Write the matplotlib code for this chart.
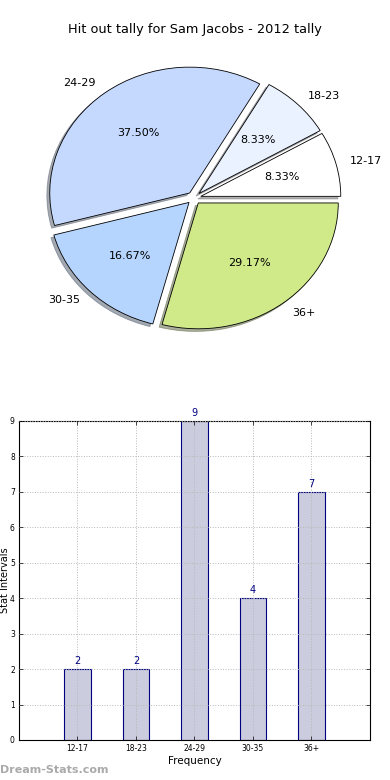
import matplotlib
matplotlib.use("Agg")
import matplotlib.pyplot as plt
import numpy as np

categories = ["12-17", "18-23", "24-29", "30-35", "36+"]
counts = [2, 2, 9, 4, 7]
pie_colors = ["#ffffff", "#eaf1ff", "#c5d9ff", "#b5d5ff", "#d0ea8a"]
title = "Hit out tally for Sam Jacobs - 2012 tally"

fig = plt.figure(figsize=(3.9, 7.8), dpi=100)

# Pie chart
axp = fig.add_axes([0.0667, 0.5526, 0.8615, 0.3872])
wedges, texts, autotexts = axp.pie(
    counts, labels=categories, colors=pie_colors, autopct="%1.2f%%",
    explode=[0.05] * len(counts),
    shadow=dict(ox=-0.015, oy=-0.015, shade=0.6),
    startangle=0,
    wedgeprops=dict(edgecolor="black", linewidth=0.6),
    textprops=dict(fontsize=8), frame=False)
axp.set_aspect("auto")
axp.set_xlim(-1.2, 1.2)
axp.set_ylim(-1.2, 1.2)
axp.axis("off")
fig.text(0.5, 1 - 30 / 780, title, ha="center", va="center", fontsize=9.3)

# Bar chart
axb = fig.add_axes([0.0487, 0.0513, 0.9, 0.409])
x = np.arange(len(categories))
bars = axb.bar(x, counts, width=0.45, color="#ccccdf", edgecolor="#000080", linewidth=0.8)
for xi, v in zip(x, counts):
    axb.text(xi, v + 0.08, str(v), ha="center", va="bottom", color="#000080", fontsize=7)
axb.set_xlim(-1, 5)
axb.set_ylim(0, 9)
axb.set_xticks(x)
axb.set_xticklabels(categories, fontsize=5.5)
axb.set_yticks(range(10))
axb.set_yticklabels([str(i) for i in range(10)], fontsize=5.5)
axb.tick_params(direction="in", top=True, right=True, length=3, width=0.5, pad=3)
axb.grid(True, linestyle=":", color="#b8b8b8", linewidth=0.7)
axb.set_axisbelow(False)
axb.set_xlabel("Frequency", fontsize=7.5, labelpad=2)
axb.set_ylabel("Stat Intervals", fontsize=7)
axb.yaxis.set_label_coords(-0.026, 0.5)
for s in axb.spines.values():
    s.set_linewidth(0.8)

fig.text(0.0, 1 - 770 / 780, "Dream-Stats.com", ha="left", va="center",
         fontsize=8, color="#aaaaaa", fontweight="bold")

fig.savefig("out.png", dpi=100)
